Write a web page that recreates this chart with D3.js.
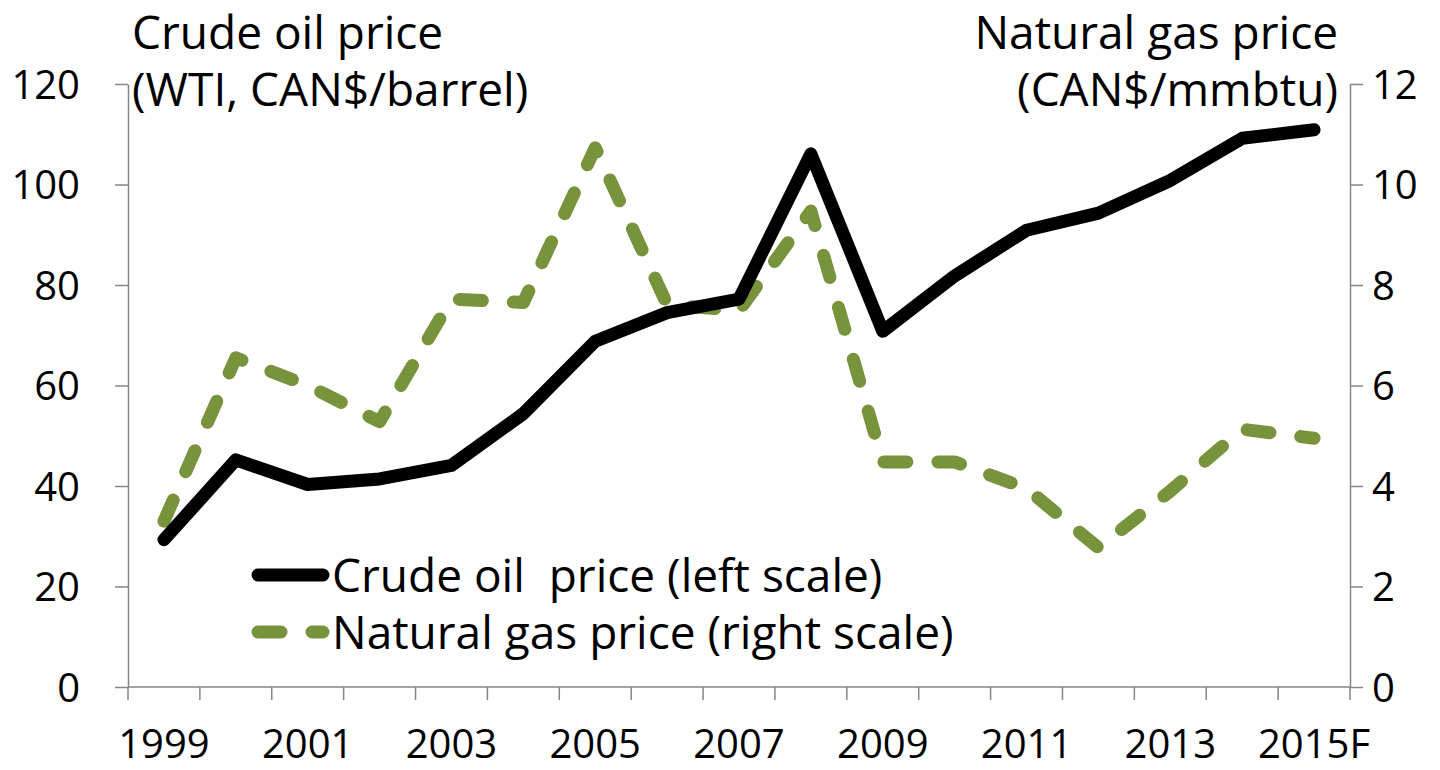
<!DOCTYPE html>
<html>
<head>
<meta charset="utf-8">
<script src="https://cdn.jsdelivr.net/npm/d3@7"></script>
<style>
  body { margin: 0; background: #fff; }
  svg { display: block; }
  text { font-family: "Open Sans", "Noto Sans", sans-serif; fill: #000; white-space: pre; }
  .axis path, .axis line { stroke: #868686; stroke-width: 1.5; }
</style>
</head>
<body>
<svg width="1440" height="770"></svg>
<script>
// data
const years = ["1999","2000","2001","2002","2003","2004","2005","2006","2007","2008","2009","2010","2011","2012","2013","2014","2015F"];
const oilPrice = [29.3, 45.2, 40.3, 41.4, 44.1, 54.4, 68.8, 74.5, 77.2, 106.1, 70.8, 81.8, 90.9, 94.3, 100.8, 109.2, 110.9];
const gasPrice = [3.3, 6.55, 6.0, 5.28, 7.72, 7.65, 10.73, 7.61, 7.49, 9.47, 4.48, 4.48, 3.95, 2.77, 3.9, 5.13, 4.95];
const leftTicks = [0, 20, 40, 60, 80, 100, 120];
const rightTicks = [0, 2, 4, 6, 8, 10, 12];
const legendLabels = ["Crude oil  price (left scale)", "Natural gas price (right scale)"];

const plotL = 128, plotR = 1350, plotT = 84, plotB = 687;
const green = "#77933C";

const svg = d3.select("svg");

const x = d3.scaleBand().domain(years).range([plotL, plotR]).paddingInner(0).paddingOuter(0);
const xEdge = d3.scaleLinear().domain([0, years.length]).range([plotL, plotR]);
const yL = d3.scaleLinear().domain([0, 120]).range([plotB, plotT]);
const yR = d3.scaleLinear().domain([0, 12]).range([plotB, plotT]);
const cx = d => x(d) + x.bandwidth() / 2;

// left axis
const gL = svg.append("g").attr("class", "axis")
  .attr("transform", `translate(${plotL},0)`)
  .call(d3.axisLeft(yL).tickValues(leftTicks).tickSize(13).tickPadding(35).tickSizeOuter(0));
gL.selectAll("text").style("font-size", "40px").attr("dy", "0.36em");

// right axis
const gR = svg.append("g").attr("class", "axis")
  .attr("transform", `translate(${plotR},0)`)
  .call(d3.axisRight(yR).tickValues(rightTicks).tickSize(13).tickPadding(9).tickSizeOuter(0));
gR.selectAll("text").style("font-size", "40px").attr("dy", "0.36em");

// bottom axis: ticks at category edges, labels every other year
const gB = svg.append("g").attr("class", "axis")
  .attr("transform", `translate(0,${plotB})`);
gB.append("line").attr("x1", plotL).attr("x2", plotR).attr("y1", 0).attr("y2", 0);
gB.selectAll(".tk").data(d3.range(years.length + 1)).enter().append("line")
  .attr("x1", d => xEdge(d)).attr("x2", d => xEdge(d))
  .attr("y1", 0).attr("y2", 13);
gB.selectAll(".lbl").data(years.filter((d, i) => i % 2 === 0)).enter().append("text")
  .attr("x", cx).attr("y", 71)
  .attr("text-anchor", "middle")
  .style("font-size", "40px")
  .text(d => d);

// axis titles
const tL = svg.append("text").style("font-size", "46px");
tL.append("tspan").attr("x", 132).attr("y", 49).text("Crude oil price");
tL.append("tspan").attr("x", 132).attr("y", 106).text("(WTI, CAN$/barrel)");
const tR = svg.append("text").attr("text-anchor", "end").style("font-size", "46px");
tR.append("tspan").attr("x", 1338).attr("y", 49).text("Natural gas price");
tR.append("tspan").attr("x", 1338).attr("y", 106).text("(CAN$/mmbtu)");

// lines
const oilLine = d3.line().x((d, i) => cx(years[i])).y(d => yL(d));
const gasLine = d3.line().x((d, i) => cx(years[i])).y(d => yR(d));

svg.append("path").datum(gasPrice)
  .attr("d", gasLine)
  .attr("fill", "none")
  .attr("stroke", green)
  .attr("stroke-width", 13)
  .attr("stroke-linecap", "round")
  .attr("stroke-linejoin", "round")
  .attr("stroke-dasharray", "23,31");

svg.append("path").datum(oilPrice)
  .attr("d", oilLine)
  .attr("fill", "none")
  .attr("stroke", "#000")
  .attr("stroke-width", 13)
  .attr("stroke-linecap", "round")
  .attr("stroke-linejoin", "round");

// legend
const legend = svg.append("g");
const legRows = [
  { label: legendLabels[0], color: "#000", dash: null, y: 575 },
  { label: legendLabels[1], color: green, dash: "23,31", y: 632 }
];
legRows.forEach(r => {
  legend.append("line")
    .attr("x1", 258).attr("x2", 323).attr("y1", r.y).attr("y2", r.y)
    .attr("stroke", r.color).attr("stroke-width", 13)
    .attr("stroke-linecap", "round")
    .attr("stroke-dasharray", r.dash);
  legend.append("text")
    .attr("x", 332).attr("y", r.y).attr("dy", "0.36em")
    .style("font-size", "46px")
    .text(r.label);
});
</script>
</body>
</html>
